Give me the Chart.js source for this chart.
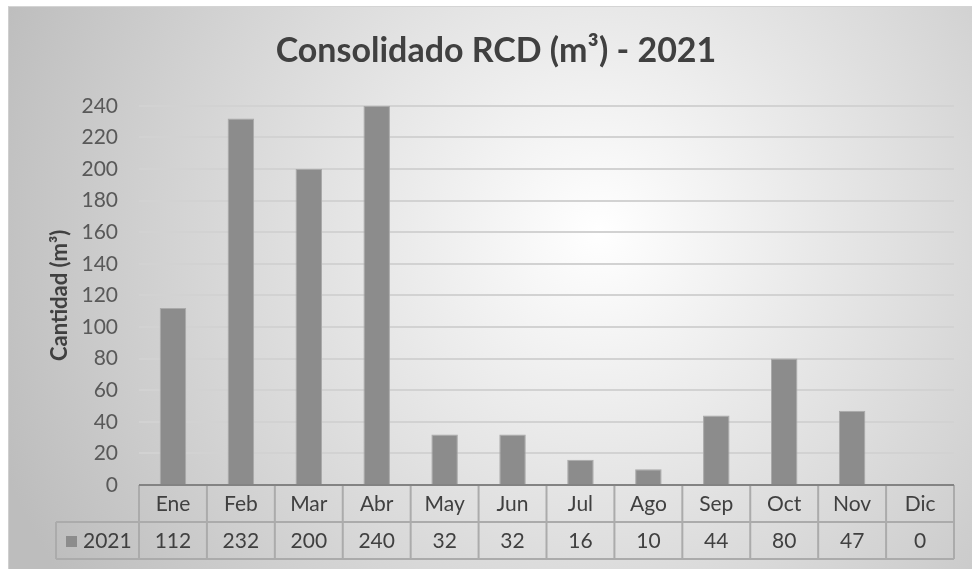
<!DOCTYPE html>
<html>
<head>
<meta charset="utf-8">
<script src="https://cdn.jsdelivr.net/npm/chart.js@4.4.1/dist/chart.umd.min.js"></script>
<style>
    body { margin: 0; background: #ffffff; }
    #wrap { position: absolute; left: 8px; top: 6px; width: 964px; height: 563px; border-top: 1px solid #d4d4d4; border-left: 1px solid #cfcfcf; box-sizing: border-box; }
    canvas { display: block; }
</style>
</head>
<body>
<div id="wrap"><canvas id="rcd-chart" width="963" height="562"></canvas></div>
<script>
const months = ['Ene', 'Feb', 'Mar', 'Abr', 'May', 'Jun', 'Jul', 'Ago', 'Sep', 'Oct', 'Nov', 'Dic']
const values2021 = [112, 232, 200, 240, 32, 32, 16, 10, 44, 80, 47, 0]
const seriesName = '2021'
const yMax = 240
const yStep = 20

const textColor = '#404040'
const barColor = '#8c8c8c'
const tableLine = '#ababab'

// radial grey background like the excel chart style
const background = {
    id: 'background',
    beforeDraw(chart) {
        const ctx = chart.ctx
        const g = ctx.createRadialGradient(590, 225, 0, 590, 225, 640)
        g.addColorStop(0, '#ffffff')
        g.addColorStop(1, '#bdbdbd')
        ctx.save()
        ctx.fillStyle = g
        ctx.fillRect(0, 0, chart.width, chart.height)
        ctx.restore()
    }
}

// data table under the x axis
const dataTable = {
    id: 'dataTable',
    afterDraw(chart) {
        const ctx = chart.ctx
        const x = chart.scales.x
        const top = chart.chartArea.bottom
        const rowH = 37
        const half = (x.getPixelForValue(1) - x.getPixelForValue(0)) / 2
        const left = x.getPixelForValue(0) - half
        const right = x.getPixelForValue(months.length - 1) + half
        const legendLeft = 47

        ctx.save()
        ctx.strokeStyle = tableLine
        ctx.lineWidth = 2
        ctx.beginPath()
        for (let i = 0; i <= months.length; i++) {
            const px = left + i * half * 2
            ctx.moveTo(px, top)
            ctx.lineTo(px, top + rowH * 2)
        }
        ctx.moveTo(legendLeft, top + rowH)
        ctx.lineTo(right, top + rowH)
        ctx.moveTo(legendLeft, top + rowH * 2)
        ctx.lineTo(right, top + rowH * 2)
        ctx.moveTo(legendLeft, top + rowH)
        ctx.lineTo(legendLeft, top + rowH * 2)
        ctx.stroke()

        // axis line on top of the table
        ctx.strokeStyle = '#838383'
        ctx.lineWidth = 2
        ctx.beginPath()
        ctx.moveTo(left, top)
        ctx.lineTo(right, top)
        ctx.stroke()

        ctx.fillStyle = textColor
        ctx.font = '21px Lato'
        ctx.textAlign = 'center'
        ctx.textBaseline = 'middle'
        months.forEach((m, i) => {
            const cx = x.getPixelForValue(i)
            ctx.fillText(m, cx, top + rowH / 2 + 1)
            ctx.fillText(String(values2021[i]), cx, top + rowH * 1.5 + 1)
        })

        ctx.fillStyle = barColor
        ctx.fillRect(57, top + rowH + 14, 11, 11)
        ctx.fillStyle = textColor
        ctx.textAlign = 'left'
        ctx.fillText(seriesName, 74, top + rowH * 1.5 + 1)
        ctx.restore()
    }
}

const ctx = document.getElementById('rcd-chart')
new Chart(ctx, {
    type: 'bar',
    data: {
        labels: months,
        datasets: [{
            label: seriesName,
            data: values2021,
            backgroundColor: barColor,
            borderColor: '#a9a9a9',
            borderWidth: 1,
            barPercentage: 0.39,
            categoryPercentage: 1
        }]
    },
    options: {
        responsive: false,
        animation: false,
        layout: {
            padding: { left: 29, right: 18, top: 0, bottom: 10 }
        },
        plugins: {
            legend: { display: false },
            tooltip: { enabled: false },
            title: {
                display: true,
                text: 'Consolidado RCD (m³) - 2021',
                color: textColor,
                font: { family: 'Lato', size: 34, weight: 'bold' },
                padding: { top: 24, bottom: 34 }
            }
        },
        scales: {
            x: {
                grid: { display: false },
                border: { display: false },
                ticks: { display: false },
                afterFit: s => { s.height = 74 }
            },
            y: {
                min: 0,
                max: yMax,
                ticks: {
                    stepSize: yStep,
                    color: '#595959',
                    font: { family: 'Lato', size: 21 },
                    padding: 21
                },
                grid: { color: '#d2d2d2', lineWidth: 2, drawTicks: false },
                border: { display: false },
                title: {
                    display: true,
                    text: 'Cantidad (m³)',
                    color: textColor,
                    font: { family: 'Lato', size: 22, weight: 'bold' },
                    padding: { top: 9, bottom: 0 }
                },
                afterFit: s => { s.width = 101 }
            }
        }
    },
    plugins: [background, dataTable]
})
</script>
</body>
</html>
